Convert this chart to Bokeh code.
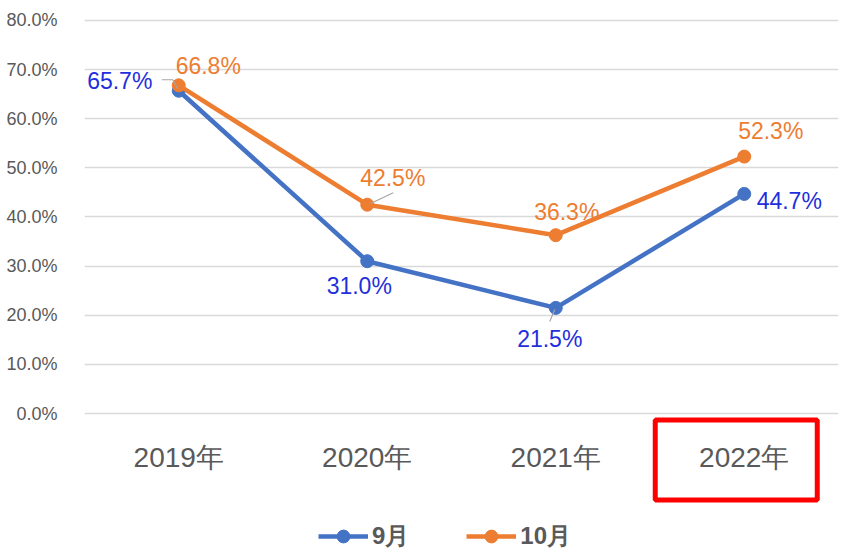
from bokeh.plotting import figure
from bokeh.models import FactorRange, Range1d, FixedTicker, PrintfTickFormatter, Legend, LegendItem
from bokeh.embed import file_html
from bokeh.resources import INLINE

# ---------------- data ----------------
categories = ["2019年", "2020年", "2021年", "2022年"]
series_names = ["9月", "10月"]
sep_values = [65.7, 31.0, 21.5, 44.7]
oct_values = [66.8, 42.5, 36.3, 52.3]
y_ticks = [0, 10, 20, 30, 40, 50, 60, 70, 80]
highlight_category = "2022年"

# ---------------- styling / layout ----------------
W, H = 846, 552
FRAME_LEFT = 84
FRAME_RIGHT_PAD = 8
Y_TOP, Y_BOTTOM = 84.071, -28.295
PX_X = (W - FRAME_LEFT - FRAME_RIGHT_PAD) / len(categories)
PX_Y = H / (Y_TOP - Y_BOTTOM)

BLUE = "#4472C4"
ORANGE = "#ED7D31"
BLUE_TXT = "#1F2FDC"
GRAY_TXT = "#595959"
FONT = "Liberation Sans"

# label centre offsets from their point, in screen px (dx right, dy down)
sep_label_off = [(-59, -10), (-8, 25), (-6, 31), (45, 7)]
oct_label_off = [(29.5, -19), (25.5, -27), (11, -23), (26.5, -26)]
# leader lines: (series, category index, list of px offsets from the point)
leaders = [
    (0, 0, [(-17, -11), (-6, -11), (-1, -2)]),
    (1, 1, [(3.4, -1.2), (26, -12)]),
    (0, 2, [(-1, 1.6), (-6, 13.6)]),
]

p = figure(width=W, height=H, x_range=FactorRange(*categories),
           y_range=Range1d(Y_BOTTOM, Y_TOP), output_backend="svg",
           toolbar_location=None, min_border_left=FRAME_LEFT,
           min_border_right=FRAME_RIGHT_PAD, min_border_top=0, min_border_bottom=0)
p.outline_line_color = None
p.background_fill_color = "white"

# axes
p.yaxis.ticker = FixedTicker(ticks=y_ticks)
p.yaxis.formatter = PrintfTickFormatter(format="%.1f%%")
p.yaxis.axis_line_color = None
p.yaxis.major_tick_line_color = None
p.yaxis.minor_tick_line_color = None
p.yaxis.major_label_standoff = 21
p.yaxis.major_label_text_font = FONT
p.yaxis.major_label_text_font_size = "18px"
p.yaxis.major_label_text_color = GRAY_TXT

p.xaxis.fixed_location = 0
p.xaxis.axis_line_color = None
p.xaxis.major_tick_line_color = None
p.xaxis.major_label_standoff = 22
p.xaxis.major_label_text_font = FONT
p.xaxis.major_label_text_font_size = "28px"
p.xaxis.major_label_text_color = GRAY_TXT

p.xgrid.grid_line_color = None
p.ygrid.ticker = FixedTicker(ticks=y_ticks)
p.ygrid.grid_line_color = "#D9D9D9"
p.ygrid.grid_line_width = 1.3

series = [(sep_values, BLUE, BLUE_TXT, sep_label_off),
          (oct_values, ORANGE, ORANGE, oct_label_off)]
items = []
for name, (vals, col, tcol, offs) in zip(series_names, series):
    ln = p.line(categories, vals, line_color=col, line_width=4.5)
    sc = p.scatter(categories, vals, size=13, fill_color=col, line_color=col)
    items.append(LegendItem(label=name, renderers=[ln, sc]))

for vals, col, tcol, offs in series:
    xs = [i + 0.5 + dx / PX_X for i, (dx, dy) in enumerate(offs)]
    ys = [v - dy / PX_Y for v, (dx, dy) in zip(vals, offs)]
    p.text(xs, ys, text=[f"{v:.1f}%" for v in vals], text_color=tcol,
           text_font_size="23px", text_font={"value": FONT},
           text_align="center", text_baseline="middle")

all_vals = [sep_values, oct_values]
lx, ly = [], []
for s, ci, pts in leaders:
    v = all_vals[s][ci]
    lx.append([ci + 0.5 + dx / PX_X for dx, dy in pts])
    ly.append([v - dy / PX_Y for dx, dy in pts])
p.multi_line(lx, ly, line_color="#A6A6A6", line_width=1.2)

# red highlight box around the 2022 category label
hi = categories.index(highlight_category)
p.rect(x=[hi + 0.5 - 8 / PX_X], y=[-46.5 / PX_Y], width=162, height=80,
       width_units="screen", height_units="screen", fill_color=None,
       line_color="#FF0000", line_width=5)

legend = Legend(items=items, orientation="horizontal", location=(234, 0),
                glyph_width=50, glyph_height=32, label_standoff=4, spacing=57,
                padding=0, margin=0, border_line_color=None,
                background_fill_alpha=0, label_text_font=FONT,
                label_text_font_size="24px", label_text_font_style="bold",
                label_text_color=GRAY_TXT)
p.add_layout(legend, "center")

open("out.html", "w").write(file_html(p, INLINE))
